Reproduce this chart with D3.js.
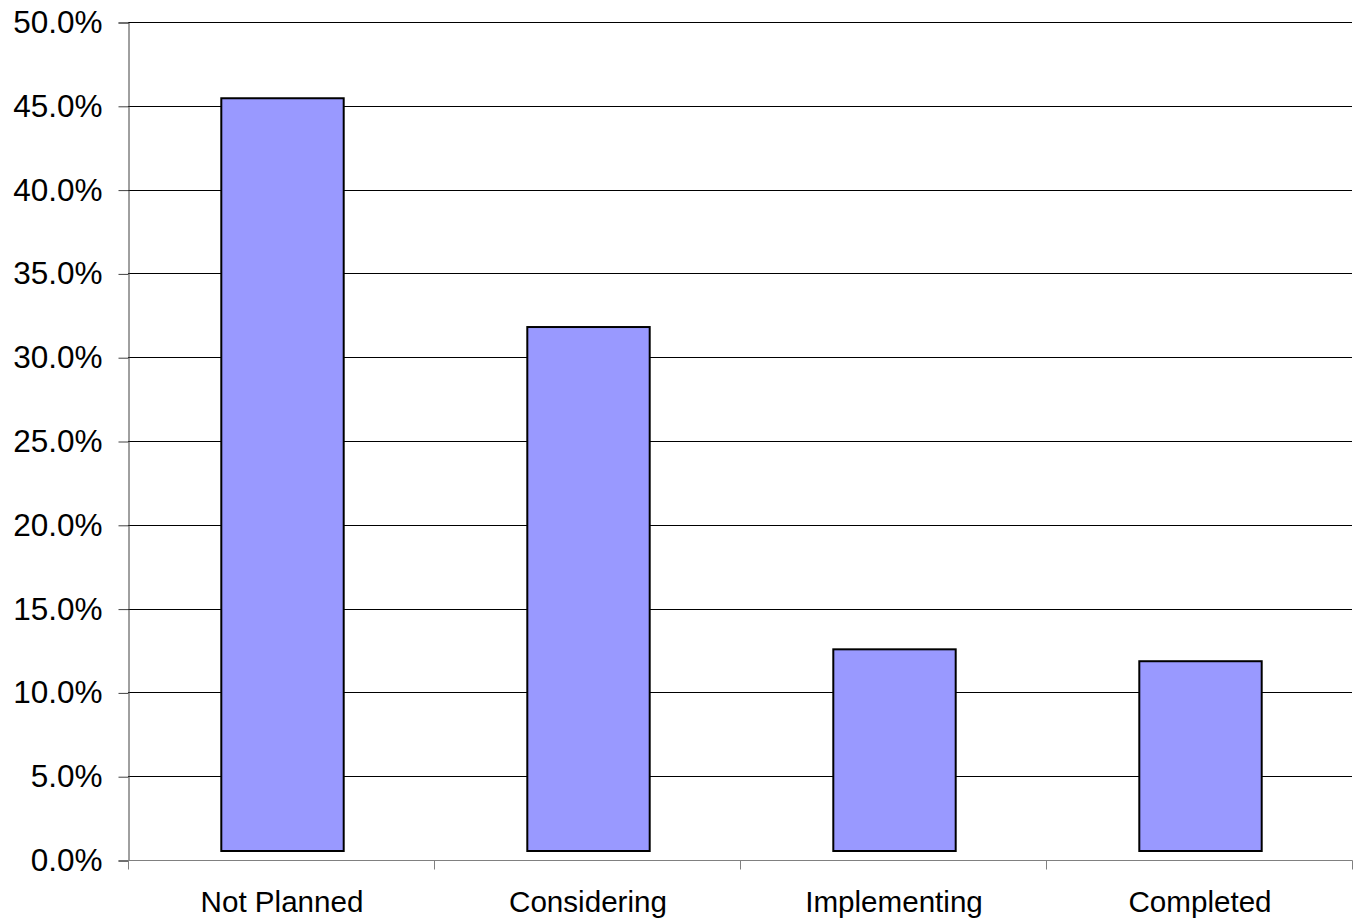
<!DOCTYPE html>
<html>
<head>
<meta charset="utf-8">
<script src="https://cdn.jsdelivr.net/npm/d3@7"></script>
<style>
  html, body { margin: 0; padding: 0; background: #fff; }
  svg { display: block; }
  text { font-family: "Liberation Sans", Arial, sans-serif; fill: #000; }
</style>
</head>
<body>
<svg id="chart" width="1359" height="919"></svg>
<script>
// Survey responses by adoption stage
const categories = ["Not Planned", "Considering", "Implementing", "Completed"];
const shares = [0.4545, 0.318, 0.1257, 0.1186];
const yTicks = [0, 0.05, 0.10, 0.15, 0.20, 0.25, 0.30, 0.35, 0.40, 0.45, 0.50];

const svg = d3.select("#chart");
const plotLeft = 128, plotRight = 1352, plotTop = 22, plotBottom = 860;

const x = d3.scaleBand().domain(categories).range([plotLeft, plotRight]).paddingInner(0.6).paddingOuter(0.3);
const y = d3.scaleLinear().domain([0, 0.5]).range([plotBottom, plotTop]);
const fmt = d3.format(".1%");

// horizontal gridlines
svg.append("g")
  .selectAll("line")
  .data(yTicks.filter(d => d > 0))
  .join("line")
  .attr("x1", plotLeft).attr("x2", plotRight)
  .attr("y1", d => Math.round(y(d)) + 0.5).attr("y2", d => Math.round(y(d)) + 0.5)
  .attr("stroke", "#000").attr("stroke-width", 1);

// bars (they stop a little above the category axis)
const baseGap = 9;
svg.append("g")
  .selectAll("rect")
  .data(categories.map((c, i) => ({ c, v: shares[i] })))
  .join("rect")
  .attr("x", d => x(d.c) + 1.5)
  .attr("width", x.bandwidth())
  .attr("y", d => y(d.v))
  .attr("height", d => y(0) - baseGap - y(d.v))
  .attr("fill", "#9999ff")
  .attr("stroke", "#000")
  .attr("stroke-width", 2);

// value axis
const yAxis = d3.axisLeft(y).tickValues(yTicks).tickFormat(fmt).tickSize(10).tickPadding(16);
const gy = svg.append("g").attr("transform", `translate(${plotLeft + 0.5},0.5)`).call(yAxis);
gy.select(".domain").attr("stroke", "#404040");
gy.selectAll(".tick line").attr("stroke", "#404040");
gy.selectAll(".tick text").attr("font-size", 31.5).attr("font-family", "Liberation Sans, Arial, sans-serif").attr("fill", "#000");

// category axis with ticks between categories
const xEdge = d3.scaleLinear().domain([0, categories.length]).range([plotLeft, plotRight]);
const gx = svg.append("g").attr("transform", `translate(0,${plotBottom + 0.5})`);
gx.append("line").attr("x1", plotLeft).attr("x2", plotRight + 0.5).attr("stroke", "#808080");
gx.selectAll("line.tk")
  .data(d3.range(categories.length + 1))
  .join("line").attr("class", "tk")
  .attr("x1", d => Math.round(xEdge(d)) + 0.5).attr("x2", d => Math.round(xEdge(d)) + 0.5)
  .attr("y1", 0).attr("y2", 9)
  .attr("stroke", "#808080");
gx.selectAll("text")
  .data(categories)
  .join("text")
  .attr("x", d => x(d) + x.bandwidth() / 2 + 1)
  .attr("y", 51)
  .attr("text-anchor", "middle")
  .attr("font-size", 29.6)
  .text(d => d);
</script>
</body>
</html>
